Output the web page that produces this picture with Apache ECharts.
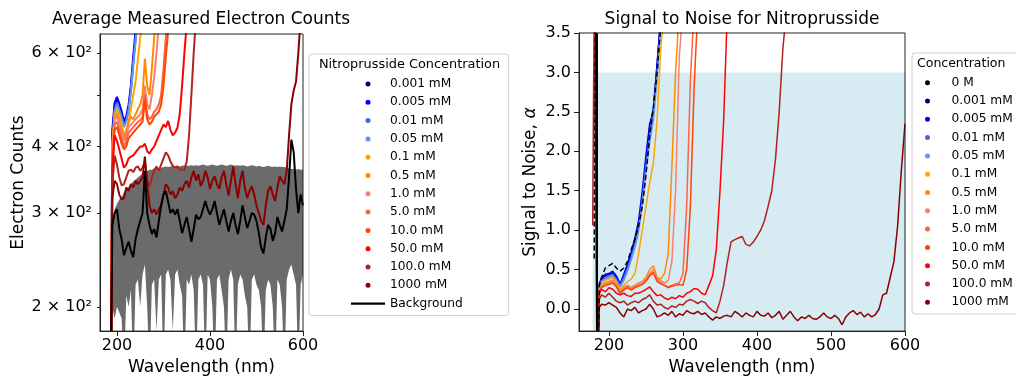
<!DOCTYPE html>
<html><head><meta charset="utf-8">
<script src="https://cdn.jsdelivr.net/npm/echarts@6/dist/echarts.min.js"></script>
<style>html,body{margin:0;padding:0;background:#fff;overflow:hidden;width:1016px;height:381px}#c{width:1120px;height:381px}</style>
</head><body><div id="c"></div><script>
// ---------- wavelength grids (nm) ----------
const wlLeft = [187,190,195,200,205,210,215,220,225,230,235,240,245,250,255,260,265,270,275,280,285,290,295,300,305,310,315,320,325,330,335,340,345,350,355,360,365,370,375,380,385,390,395,400,405,410,415,420,425,430,435,440,445,450,455,460,465,470,475,480,485,490,495,500,505,510,515,520,525,530,535,540,545,550,555,560,565,570,575,580,585,590,595,600];
const wlRight = [178,180,182,184,187,190,195,200,205,210,215,220,225,230,235,240,245,250,255,260,265,270,275,280,285,290,295,300,305,310,315,320,325,330,335,340,345,350,355,360,365,370,375,380,385,390,395,400,405,410,415,420,425,430,435,440,445,450,455,460,465,470,475,480,485,490,495,500,505,510,515,520,525,530,535,540,545,550,555,560,565,570,575,580,585,590,595,600];

// ---------- labels ----------
const concLabels = ['0.001 mM','0.005 mM','0.01 mM','0.05 mM','0.1 mM','0.5 mM','1.0 mM','5.0 mM','10.0 mM','50.0 mM','100.0 mM','1000 mM'];
const zeroLabel = '0 M';
const backgroundLabel = 'Background';
const leftXTicks = [200,400,600];
const leftYTicks = [200,300,400,600];
const leftYMinorTicks = [200,300,400,500,600];
const rightXTicks = [200,300,400,500,600];
const rightYTicks = [0,0.5,1.0,1.5,2.0,2.5,3.0,3.5];
const thresholdAlpha = 3.0;
const shadeWavelengths = [178,600];
const dropWavelength = [183];

// ---------- left panel: average electron counts (on wlLeft) ----------
const counts_0001 = [150,420,478,490,476,462,440,450,472,515,580,645,720];
const counts_0005 = [150,430,484,496,482,466,446,456,480,522,592,660,730];
const counts_001  = [150,410,470,485,470,455,438,448,470,510,575,640,710];
const counts_005  = [150,400,465,480,468,452,435,445,465,505,565,630,700];
const counts_01   = [150,400,460,470,455,440,420,425,445,470,500,530,585,640,700];
const counts_05   = [150,400,455,462,445,430,415,430,445,455,450,460,470,480,500,585,520,500,560,640,720];
const counts_1    = [150,390,450,455,440,425,410,420,435,440,445,450,455,460,470,520,480,470,500,540,600,680];
const counts_5    = [150,380,440,445,430,415,400,410,425,430,435,440,445,448,455,500,460,450,455,465,470,480,500,560,640,720];
const counts_10   = [150,370,430,435,420,405,395,400,415,420,425,430,435,440,445,490,450,440,445,455,460,465,480,520,590,660,720];
const counts_50   = [150,360,420,410,395,380,365,370,380,383,385,390,395,400,400,405,392,388,395,400,410,420,430,440,435,447,430,420,425,434,460,520,600,680];
const counts_100  = [150,340,385,370,350,338,340,350,360,362,358,365,367,360,365,375,345,337,350,360,367,360,370,380,390,385,375,368,365,367,362,362,362,375,420,500,600,700];
const counts_1000 = [150,320,345,340,325,318,320,335,330,340,335,345,340,345,350,383,340,310,300,305,298,305,310,325,340,335,325,330,320,325,335,330,340,345,335,350,360,345,355,337,345,360,350,333,345,352,340,333,350,360,340,324,345,367,340,320,345,360,335,320,330,337,325,310,300,290,285,310,330,337,325,316,335,352,345,340,360,420,480,510,530,600,700];
const counts_background = [150,285,300,305,280,268,250,258,265,255,248,268,280,290,300,360,300,285,274,280,270,290,310,325,330,315,300,305,298,305,290,275,285,295,280,265,280,298,292,295,305,316,305,298,305,316,300,285,295,305,290,277,290,300,285,274,290,310,295,281,290,300,298,290,275,258,252,270,285,280,266,275,295,285,277,290,305,350,412,390,333,300,325,310];
const background_upper = [150,290,305,312,318,322,328,332,336,340,344,347,350,353,356,358,360,362,362,364,364,365,365,366,367,366,367,368,367,368,367,368,369,368,368,369,368,369,368,369,370,369,368,369,370,369,368,369,370,369,368,369,370,369,368,369,368,369,368,367,368,369,368,367,368,367,366,367,368,367,366,367,366,367,366,366,365,364,363,363,362,363,362,362];
const background_lower = [150,200,190,200,195,190,150,210,200,215,150,220,225,200,230,240,200,150,220,225,180,225,230,150,230,235,225,180,230,235,220,210,150,225,220,230,215,150,225,230,220,150,230,225,200,150,225,230,215,200,150,225,235,225,150,220,230,225,210,200,150,225,230,220,215,200,150,215,225,220,200,150,225,220,200,150,225,235,240,230,220,150,220,230];

// ---------- right panel: signal to noise (on wlRight) ----------
const sn_0      = [null,0.64,4.0,-1,0.3,0.4,0.52,0.55,0.58,0.52,0.48,0.52,0.6,0.75,0.88,1.05,1.3,1.7,2.2,2.55,3.0,3.6];
const sn_0001   = [null,null,null,-1,0.3,0.38,0.42,0.44,0.46,0.4,0.3,0.42,0.55,0.7,0.85,1.05,1.4,1.9,2.3,2.55,3.1,3.7];
const sn_0005   = [null,null,null,-1,0.32,0.4,0.44,0.45,0.48,0.42,0.32,0.44,0.57,0.72,0.9,1.12,1.5,1.95,2.35,2.5,3.1,3.7];
const sn_001    = [null,null,null,-1,0.3,0.36,0.4,0.42,0.44,0.38,0.3,0.4,0.52,0.66,0.82,1.02,1.38,1.82,2.2,2.5,3.0,3.6];
const sn_005    = [null,null,null,-1,0.28,0.35,0.38,0.4,0.42,0.36,0.28,0.36,0.48,0.62,0.78,0.98,1.32,1.75,2.1,2.4,2.9,3.6];
const sn_01     = [null,null,null,-1,0.25,0.33,0.36,0.38,0.4,0.35,0.25,0.3,0.35,0.38,0.45,0.7,1.0,1.3,1.6,1.85,2.4,3.3,3.8];
const sn_05     = [null,null,null,-1,0.22,0.3,0.33,0.35,0.37,0.32,0.22,0.28,0.3,0.27,0.3,0.33,0.35,0.4,0.5,0.55,0.4,0.38,0.45,0.7,1.8,3.0,3.8];
const sn_1      = [null,null,null,-1,0.22,0.3,0.32,0.34,0.36,0.3,0.22,0.27,0.3,0.27,0.3,0.32,0.35,0.38,0.45,0.5,0.38,0.36,0.33,0.36,0.6,1.5,3.2,3.8];
const sn_5      = [null,null,null,-1,0.2,0.28,0.3,0.32,0.34,0.29,0.2,0.25,0.28,0.25,0.28,0.3,0.32,0.36,0.42,0.47,0.36,0.33,0.3,0.28,0.3,0.32,0.33,0.45,1.3,2.9,3.8];
const sn_10     = [null,null,null,-1,0.2,0.27,0.3,0.31,0.33,0.28,0.2,0.24,0.27,0.24,0.27,0.29,0.31,0.35,0.42,0.46,0.35,0.32,0.3,0.27,0.29,0.3,0.31,0.3,0.5,1.3,2.8,3.8];
const sn_50     = [null,null,null,-1,0.2,0.25,0.22,0.27,0.25,0.2,0.18,0.2,0.17,0.16,0.2,0.2,0.22,0.25,0.28,0.22,0.17,0.18,0.14,0.12,0.15,0.13,0.17,0.15,0.2,0.22,0.26,0.25,0.2,0.18,0.3,0.42,0.75,1.5,2.4,3.8];
const sn_100    = [1.06,3.8,null,-1,0.12,0.18,0.15,0.2,0.15,0.1,0.08,0.1,0.05,0.08,0.1,0.08,0.12,0.14,0.18,0.1,0.05,0.06,0.02,0.0,0.04,0.02,0.06,0.05,0.1,0.12,0.1,0.07,0.1,0.08,0.02,-0.02,-0.05,0.1,0.3,0.6,0.85,0.88,0.9,0.92,0.82,0.8,0.85,0.92,1.0,1.12,1.3,1.5,1.9,2.5,3.3,3.8];
const sn_1000   = [null,null,null,-1,0.02,0.06,0.05,0.08,0.05,0.02,-0.05,-0.1,0.0,-0.02,0.02,-0.05,-0.02,0.0,0.06,0.0,-0.1,-0.08,-0.05,-0.08,-0.03,-0.1,-0.06,-0.08,-0.02,-0.05,-0.06,-0.03,-0.07,-0.05,-0.1,-0.14,-0.1,-0.12,-0.09,-0.08,-0.1,-0.03,-0.06,-0.1,-0.05,-0.08,-0.1,-0.03,-0.08,-0.09,-0.05,-0.11,-0.08,-0.03,-0.13,-0.08,-0.03,-0.1,-0.15,-0.1,-0.12,-0.08,-0.12,-0.13,-0.1,-0.05,-0.1,-0.12,-0.08,-0.12,-0.2,-0.1,-0.05,-0.02,-0.07,-0.04,-0.1,-0.06,-0.1,-0.07,0.0,0.18,0.2,0.4,0.6,1.05,1.75,2.35];

// ---------- styling ----------
const concColors = ['#000080','#0000ff','#4169e1','#6495ed','#ffa500','#ff8c00','#fa8072','#ff6347','#ff4500','#ff0000','#b22222','#8b0000'];
const FONT = 'DejaVu Sans';
const leftCounts = [counts_0001,counts_0005,counts_001,counts_005,counts_01,counts_05,counts_1,counts_5,counts_10,counts_50,counts_100,counts_1000];
const rightSN = [sn_0001,sn_0005,sn_001,sn_005,sn_01,sn_05,sn_1,sn_5,sn_10,sn_50,sn_100,sn_1000];

function pairs(xs, ys) {
  const out = [];
  for (let i = 0; i < ys.length; i++) if (ys[i] !== null) out.push([xs[i], ys[i]]);
  return out;
}

const series = [];
// gray band between background_lower and background_upper, drawn through the axes' scales
series.push({
  type:'custom', xAxisIndex:0, yAxisIndex:0, silent:true, clip:true, z:1,
  data: [[wlLeft[0], background_upper[0]]],
  renderItem: (params, api) => {
    const pts = [];
    for (let i = 0; i < wlLeft.length; i++) pts.push(api.coord([wlLeft[i], background_upper[i]]));
    for (let i = wlLeft.length - 1; i >= 0; i--) pts.push(api.coord([wlLeft[i], background_lower[i]]));
    return {type:'polygon', shape:{points:pts}, style:{fill:'#6b6b6b', stroke:null}};
  }
});
concLabels.forEach((name, i) => {
  series.push({
    name, type:'line', xAxisIndex:0, yAxisIndex:0, data: pairs(wlLeft, leftCounts[i]),
    symbol:'none', color: concColors[i], lineStyle:{width:2, color: concColors[i]}, z:3
  });
});
series.push({
  name: backgroundLabel, type:'line', xAxisIndex:0, yAxisIndex:0, data: pairs(wlLeft, counts_background),
  symbol:'none', color:'#000', lineStyle:{width:2, color:'#000'}, z:3
});
concLabels.forEach((name, i) => {
  series.push({
    name, type:'line', xAxisIndex:1, yAxisIndex:1, data: pairs(wlRight, rightSN[i]),
    symbol:'none', color: concColors[i], lineStyle:{width:1.5, color: concColors[i]}, z:3,
    markArea: i === 0 ? {
      silent:true, itemStyle:{color:'#d6ebf2'},
      data:[[{xAxis: shadeWavelengths[0], yAxis: -0.28}, {xAxis: shadeWavelengths[1], yAxis: thresholdAlpha}]]
    } : undefined
  });
});
series.push({
  name: zeroLabel, type:'line', xAxisIndex:1, yAxisIndex:1, data: pairs(wlRight, sn_0),
  symbol:'none', color:'#000', lineStyle:{width:1.5, color:'#000', type:[5,3]}, z:4,
  markLine:{silent:true, symbol:'none', label:{show:false},
    lineStyle:{color:'#000', width:2, type:'solid'},
    data: dropWavelength.map(v => ({xAxis: v}))}
});

const axisCommon = {
  z:10,
  axisLine:{show:true, onZero:false, lineStyle:{color:'#222', width:1}},
  axisTick:{show:true, length:5, lineStyle:{color:'#222'}},
  splitLine:{show:false},
  axisLabel:{color:'#000', fontSize:16, fontFamily:FONT}
};
const nameStyle = {fontSize:17, color:'#000', fontFamily:FONT};

const option = {
  animation:false,
  textStyle:{fontFamily:FONT},
  graphic:[
    {type:'text', x:201, y:20, style:{text:'Average Measured Electron Counts', font:'17px "DejaVu Sans"', fill:'#000', textAlign:'center', textVerticalAlign:'middle'}},
    {type:'text', x:742, y:20, style:{text:'Signal to Noise for Nitroprusside', font:'17px "DejaVu Sans"', fill:'#000', textAlign:'center', textVerticalAlign:'middle'}},
    {type:'text', x:409.5, y:65, z:100, style:{text:'Nitroprusside Concentration', font:'12.9px "DejaVu Sans"', fill:'#000', textAlign:'center', textVerticalAlign:'middle'}},
    {type:'text', x:917, y:64, z:100, style:{text:'Concentration', font:'12.5px "DejaVu Sans"', fill:'#000', textAlign:'left', textVerticalAlign:'middle'}}
  ],
  grid:[
    {left:100, top:34, width:203, height:303, show:true, z:10, borderColor:'#222', borderWidth:1, backgroundColor:'transparent'},
    {left:579, top:33, width:326, height:301, show:true, z:10, borderColor:'#222', borderWidth:1, backgroundColor:'transparent'}
  ],
  xAxis:[
    Object.assign({}, axisCommon, {type:'value', gridIndex:0, min:163.5, max:600,
      axisLabel:Object.assign({}, axisCommon.axisLabel, {customValues:leftXTicks, margin:7}),
      axisTick:Object.assign({}, axisCommon.axisTick, {customValues:leftXTicks}),
      name:'Wavelength (nm)', nameLocation:'middle', nameGap:26, nameTextStyle:nameStyle}),
    Object.assign({}, axisCommon, {type:'value', gridIndex:1, min:159.5, max:600,
      axisLabel:Object.assign({}, axisCommon.axisLabel, {customValues:rightXTicks, margin:7}),
      axisTick:Object.assign({}, axisCommon.axisTick, {customValues:rightXTicks}),
      name:'Wavelength (nm)', nameLocation:'middle', nameGap:27, nameTextStyle:nameStyle})
  ],
  yAxis:[
    Object.assign({}, axisCommon, {type:'log', logBase:10, gridIndex:0, min:180, max:651,
      axisLabel:Object.assign({}, axisCommon.axisLabel, {customValues:leftYTicks, margin:8,
        formatter: v => (Math.round(v/100)) + ' \u00d7 10\u00b2'}),
      axisTick:Object.assign({}, axisCommon.axisTick, {customValues:leftYMinorTicks, length:3}),
      minorTick:{show:false},
      name:'Electron Counts', nameLocation:'middle', nameGap:70, nameTextStyle:nameStyle}),
    Object.assign({}, axisCommon, {type:'value', gridIndex:1, min:-0.28, max:3.5,
      axisLabel:Object.assign({}, axisCommon.axisLabel, {customValues:rightYTicks, margin:8,
        formatter: v => v.toFixed(1)}),
      axisTick:Object.assign({}, axisCommon.axisTick, {customValues:rightYTicks}),
      name:'Signal to Noise, {i|\u03b1}', nameLocation:'middle', nameGap:40,
      nameTextStyle:Object.assign({}, nameStyle, {rich:{i:{fontStyle:'italic', fontSize:17, fontFamily:FONT}}})})
  ],
  legend:[
    {
      data: concLabels.map(n => ({name:n, icon:'circle'})).concat([{name:backgroundLabel, icon:'path://M0,0H26V1.6H0Z'}]),
      orient:'vertical', left:309, top:54, padding:[23,46,5,42],
      itemWidth:34, itemHeight:5, itemGap:4.3, selectedMode:false,
      textStyle:{fontSize:12.2, lineHeight:14, color:'#000', fontFamily:FONT},
      borderColor:'#d0d0d0', borderWidth:1, borderRadius:3, backgroundColor:'#fff'
    },
    {
      data: [{name:zeroLabel, icon:'circle'}].concat(concLabels.map(n => ({name:n, icon:'circle'}))),
      orient:'vertical', left:912, top:53, padding:[22.7,20,4.7,13],
      itemWidth:32, itemHeight:5, itemGap:4.3, selectedMode:false,
      textStyle:{fontSize:12.2, lineHeight:14, color:'#000', fontFamily:FONT, padding:[0,0,0,3]},
      borderColor:'#d0d0d0', borderWidth:1, borderRadius:3, backgroundColor:'#fff'
    }
  ],
  series
};

const chart = echarts.init(document.getElementById('c'), null, {renderer:'canvas'});
chart.setOption(option);
</script></body></html>
